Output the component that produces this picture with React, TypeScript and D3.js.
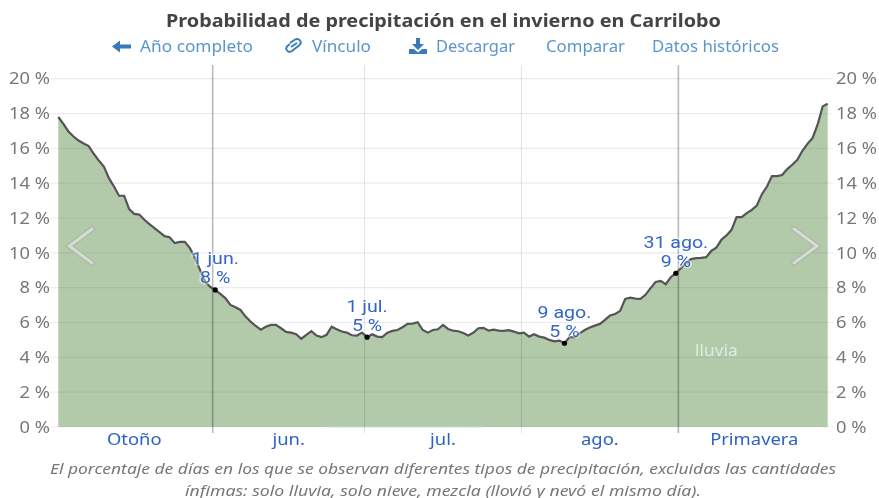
import React, { useEffect, useRef } from 'react';
import * as d3 from 'd3';

const WIDTH = 879;
const HEIGHT = 498;
const FONT = '"Noto Sans", "Open Sans", sans-serif';

// probability of rain per day, in %
const mayValues = [
  17.8, 17.41, 16.97, 16.68, 16.45, 16.28, 16.13, 15.69, 15.3, 14.96, 14.29,
  13.81, 13.28, 13.28, 12.51, 12.24, 12.2, 11.9, 11.65, 11.42, 11.19, 10.96,
  10.9, 10.56, 10.63, 10.63, 10.27, 9.71, 9.02, 8.35, 8.05,
];
const junValues = [
  7.87, 7.64, 7.4, 7.01, 6.88, 6.72, 6.34, 6.05, 5.8, 5.59, 5.76, 5.86, 5.86,
  5.67, 5.46, 5.42, 5.33, 5.07, 5.29, 5.5, 5.25, 5.16, 5.29, 5.76, 5.61, 5.48,
  5.42, 5.27, 5.25, 5.42,
];
const julValues = [
  5.16, 5.33, 5.19, 5.16, 5.42, 5.52, 5.57, 5.73, 5.92, 5.94, 6.02, 5.57, 5.42,
  5.57, 5.61, 5.86, 5.63, 5.53, 5.5, 5.4, 5.25, 5.42, 5.67, 5.69, 5.53, 5.59,
  5.53, 5.52, 5.56, 5.48, 5.38,
];
const augValues = [
  5.42, 5.19, 5.33, 5.19, 5.13, 5.0, 4.92, 4.96, 4.81, 5.16, 5.16, 5.38, 5.57,
  5.71, 5.82, 5.92, 6.15, 6.4, 6.49, 6.67, 7.36, 7.43, 7.37, 7.36, 7.59, 7.97,
  8.33, 8.39, 8.2, 8.6, 8.83,
];
const sepValues = [
  9.12, 9.41, 9.64, 9.7, 9.71, 9.75, 10.11, 10.3, 10.75, 11.0, 11.32, 12.05,
  12.05, 12.28, 12.47, 12.72, 13.37, 13.81, 14.41, 14.41, 14.47, 14.81, 15.06,
  15.34, 15.86, 16.26, 16.59, 17.36, 18.41, 18.56,
];
const rainValues = [...mayValues, ...junValues, ...julValues, ...augValues, ...sepValues];

const yTicks = [0, 2, 4, 6, 8, 10, 12, 14, 16, 18, 20];
const seasonLabels = ['Otoño', 'jun.', 'jul.', 'ago.', 'Primavera'];
// day indexes of the edges between those labels
const seasonEdges = [-0.5, 30.5, 60.5, 91.5, 122.5, 152.5];
const seasonEdgeStrong = [false, true, false, false, true, false];

const annotationDays = [31, 61, 100, 122];
const annotationDates = ['1 jun.', '1 jul.', '9 ago.', '31 ago.'];

// pale strip along the zero line: the few days with a trace of mixed precipitation
const mixDays = [53, 84];

const navLabels = ['Año completo', 'Vínculo', 'Descargar', 'Comparar', 'Datos históricos'];
const navStarts = [140, 312, 436, 546, 652];
const navWidths = [113, 59, 79, 79, 127];

const footLines = [
  'El porcentaje de días en los que se observan diferentes tipos de precipitación, excluidas las cantidades',
  'ínfimas: solo lluvia, solo nieve, mezcla (llovió y nevó el mismo día).',
];
const footWidths = [786, 516];

// The screenshot is stretched sideways, so text is wider than the font draws it
function stretch(el: SVGTextElement, width: number) {
  el.setAttribute('textLength', String(width));
  el.setAttribute('lengthAdjust', 'spacingAndGlyphs');
}

function widen(selection: d3.Selection<any, any, any, any>, factor: number) {
  selection.each(function (this: SVGTextElement) {
    stretch(this, this.getComputedTextLength() * factor);
  });
}

export default function App() {
  const svgRef = useRef<SVGSVGElement>(null);

  useEffect(() => {
    const svgElement = svgRef.current;
    if (!svgElement) return;
    const svg = d3.select(svgElement);
    svg.selectAll('*').remove();

    const x = d3.scaleLinear().domain([0, 152]).range([58.3, 827.7]);
    const y = d3.scaleLinear().domain([0, 20]).range([427, 78.7]);

    // Title
    const title = svg.append('text')
      .attr('x', 443.5)
      .attr('y', 27)
      .attr('text-anchor', 'middle')
      .style('font-size', '17.5px')
      .style('font-weight', 700)
      .style('fill', '#444')
      .text('Probabilidad de precipitación en el invierno en Carrilobo');
    stretch(title.node() as SVGTextElement, 555);

    // Nav row
    svg.selectAll('.nav')
      .data(navLabels)
      .enter()
      .append('text')
      .attr('class', 'nav')
      .attr('x', (_, i) => navStarts[i])
      .attr('y', 52)
      .style('font-size', '16px')
      .style('fill', '#5b95cf')
      .text(d => d)
      .each(function (_, i) {
        stretch(this as SVGTextElement, navWidths[i]);
      });

    const icons = svg.append('g').style('fill', '#3a7ab8');
    icons.append('path').attr('d', 'M112 46.5 L120 40.5 L120 44.5 L131 44.5 L131 48.5 L120 48.5 L120 52.5 Z');
    icons.append('path')
      .attr('d', 'M291 47 L297 43 M290 43 L295 39.5 Q298 38 300 40.5 Q302 43 299 45.5 L297 47 M297 47 L292 51 Q289 53 287 50.5 Q285 48 288 45.5 L290 44')
      .style('fill', 'none')
      .style('stroke', '#3a7ab8')
      .style('stroke-width', 1.9);
    icons.append('path').attr('d', 'M416 38 L420 38 L420 44 L424 44 L418 50 L412 44 L416 44 Z M409 49 L414 49 L418 52.5 L422 49 L427 49 L427 54 L409 54 Z');

    // Grid under the area
    svg.append('g')
      .selectAll('line')
      .data(yTicks)
      .enter()
      .append('line')
      .attr('x1', 50)
      .attr('x2', 833)
      .attr('y1', d => y(d))
      .attr('y2', d => y(d))
      .style('stroke', '#efefef')
      .style('stroke-width', 1.2);

    // Area
    const area = d3.area<number>()
      .x((_, i) => x(i))
      .y0(y(0))
      .y1(d => y(d));
    svg.append('path')
      .datum(rainValues)
      .attr('d', area)
      .style('fill', '#659355')
      .style('fill-opacity', 0.5);

    // Grid again, faint, over the area
    svg.append('g')
      .selectAll('line')
      .data(yTicks.slice(1))
      .enter()
      .append('line')
      .attr('x1', 58)
      .attr('x2', 828)
      .attr('y1', d => y(d))
      .attr('y2', d => y(d))
      .style('stroke', 'rgba(0,0,0,0.015)')
      .style('stroke-width', 1.2);

    svg.append('line')
      .attr('x1', x(mixDays[0]))
      .attr('x2', x(mixDays[1]))
      .attr('y1', y(0) + 0.5)
      .attr('y2', y(0) + 0.5)
      .style('stroke', '#dff3f3')
      .style('stroke-width', 1.5);

    // Season edges
    svg.append('g')
      .selectAll('line')
      .data(seasonEdges.slice(1, -1))
      .enter()
      .append('line')
      .attr('x1', d => x(d))
      .attr('x2', d => x(d))
      .attr('y1', 65)
      .attr('y2', 433)
      .style('stroke', (_, i) => (seasonEdgeStrong[i + 1] ? 'rgba(0,0,0,0.27)' : 'rgba(0,0,0,0.11)'))
      .style('stroke-width', (_, i) => (seasonEdgeStrong[i + 1] ? 1.6 : 1.1));

    // Rain line
    const line = d3.line<number>()
      .x((_, i) => x(i))
      .y(d => y(d));
    svg.append('path')
      .datum(rainValues)
      .attr('d', line)
      .style('fill', 'none')
      .style('stroke', '#555')
      .style('stroke-width', 2.2);

    // Axes
    const yFormat = (d: d3.NumberValue) => `${d} %`;
    const leftAxis = svg.append('g')
      .attr('transform', 'translate(58,0)')
      .call(d3.axisLeft(y).tickValues(yTicks).tickSize(0).tickPadding(8).tickFormat(yFormat));
    const rightAxis = svg.append('g')
      .attr('transform', 'translate(828,0)')
      .call(d3.axisRight(y).tickValues(yTicks).tickSize(0).tickPadding(8).tickFormat(yFormat));
    [leftAxis, rightAxis].forEach(axis => {
      axis.select('.domain').remove();
      const labels = axis.selectAll('text')
        .style('font-family', FONT)
        .style('font-size', '16.5px')
        .style('fill', '#777');
      widen(labels, 1.11);
    });

    const seasons = svg.selectAll('.season')
      .data(seasonLabels)
      .enter()
      .append('text')
      .attr('class', 'season')
      .attr('x', (_, i) => x((seasonEdges[i] + seasonEdges[i + 1]) / 2))
      .attr('y', 445)
      .attr('text-anchor', 'middle')
      .style('font-size', '16px')
      .style('fill', '#2f62c4')
      .text(d => d);
    widen(seasons, 1.15);

    // Series label
    const seriesLabel = svg.append('text')
      .attr('x', x(130))
      .attr('y', y(4.05))
      .attr('text-anchor', 'middle')
      .style('font-size', '16px')
      .style('fill', 'rgba(255,255,255,0.62)')
      .text('lluvia');
    widen(seriesLabel, 1.08);

    // Chevrons
    const chevron = d3.line<[number, number]>();
    const chevrons: [number, number][][] = [
      [[92, 229], [69.5, 246], [92, 263]],
      [[794, 229], [817, 246], [794, 263]],
    ];
    chevrons.forEach(points => {
      svg.append('path')
        .attr('d', chevron(points))
        .style('fill', 'none')
        .style('stroke', '#a9b3a5')
        .style('stroke-width', 5.2)
        .style('stroke-linecap', 'round');
      svg.append('path')
        .attr('d', chevron(points))
        .style('fill', 'none')
        .style('stroke', '#d5dcd1')
        .style('stroke-width', 3.2)
        .style('stroke-linecap', 'round');
    });

    // Annotated days. Roboto here: its line box is short enough for the two stacked rows
    annotationDays.forEach((day, i) => {
      const value = rainValues[day];
      svg.append('circle')
        .attr('cx', x(day))
        .attr('cy', y(value))
        .attr('r', 2.6)
        .style('fill', '#000');
      [annotationDates[i], `${Math.round(value)} %`].forEach((label, row) => {
        const text = svg.append('text')
          .attr('x', x(day))
          .attr('y', y(value) + (row === 0 ? -25.5 : -6.5))
          .attr('text-anchor', 'middle')
          .style('font-family', 'Roboto, sans-serif')
          .style('font-size', '15.8px')
          .style('fill', '#3566c6')
          .style('stroke', 'rgba(255,255,255,0.45)')
          .style('stroke-width', 3)
          .style('paint-order', 'stroke')
          .text(label);
        widen(text, 1.24);
      });
    });

    // Footnote
    svg.selectAll('.foot')
      .data(footLines)
      .enter()
      .append('text')
      .attr('class', 'foot')
      .attr('x', 443)
      .attr('y', (_, i) => 474 + i * 21.5)
      .attr('text-anchor', 'middle')
      .style('font-size', '15.2px')
      .style('font-style', 'italic')
      .style('fill', '#777')
      .text(d => d)
      .each(function (_, i) {
        stretch(this as SVGTextElement, footWidths[i]);
      });
  }, []);

  return (
    <svg
      ref={svgRef}
      width={WIDTH}
      height={HEIGHT}
      style={{ position: 'absolute', left: 0, top: 0, display: 'block', fontFamily: FONT, filter: 'blur(0.45px)' }}
    />
  );
}
